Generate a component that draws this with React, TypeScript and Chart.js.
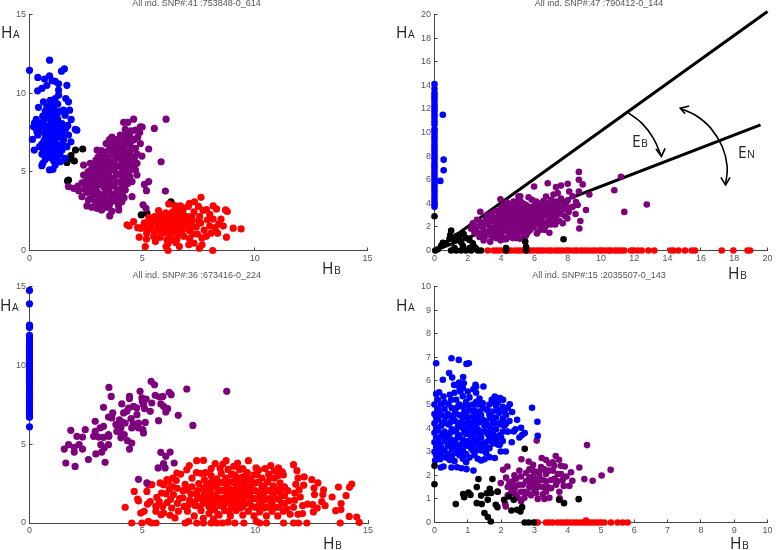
import React, { useEffect, useRef } from "react";
import { Chart, registerables } from "chart.js";
Chart.register(...registerables);

const BLUE = "#0000ff", RED = "#ff0000", PURPLE = "#7d007d", BLACK = "#000000";

// Panel 1
const blue1 = [[0,11.45],[.89,12.1],[.37,11],[1.42,11.4],[1.55,11.55],[.89,11.1],[.67,10.9],[1,10.8],[1.14,10.75],[1.29,10.6],[1.66,10.5],[.77,10.5],[.55,10.3],[.36,10.15],[1.29,10.2],[1.29,9.87],[.62,9.45],[.92,9.55],[1.14,9.66],[1.61,9.66],[1.73,9.45],[.4,9.1],[.77,9.13],[1,9.24],[1.51,8.92],[1.78,8.92],[.59,8.54],[.92,8.7],[1.21,8.6],[1.58,8.6],[1.85,8.33],[.3,8.33],[.22,8.1],[.18,7.86],[.62,8.18],[1.07,8.29],[1.44,8.07],[.77,7.9],[1.14,7.97],[1.61,7.76],[2.03,7.7],[2.1,7.65],[.33,7.55],[.62,7.55],[.92,7.48],[1.29,7.55],[1.73,7.34],[.37,7.34],[.13,7.06],[.77,7.12],[1.14,7.12],[1.51,7.02],[1.84,6.91],[.55,6.76],[.92,6.7],[1.29,6.7],[1.66,6.6],[.21,6.38],[.62,6.38],[1.07,6.34],[1.44,6.38],[.55,6.13],[.84,6.07],[1.21,5.96],[1.58,5.86],[.7,5.79],[1.07,5.7],[1.36,5.64],[.59,5.54],[.55,5.39],[1.14,5.43],[.89,5.12],[1.04,5.16],[.28,7.8],[.45,7.85],[.5,8.1],[.95,8.05],[1.3,8.1],[1.4,7.75],[.85,7.7],[1.1,7.6],[.7,7.35],[1,7.3],[1.3,7.2],[.65,7],[.95,6.9],[1.15,6.55],[.8,6.5],[.45,6.6],[1.35,6.1],[.95,5.9],[1.7,7.95],[1.05,9.05],[1.25,9.3],[.95,9.3],[.7,8.85],[1.35,8.85],[1.1,8.9],[.85,8.4],[1.1,8.5],[1.25,8.35],[.9,8.95],[.75,8.6],[.6,7.8],[1,7.85],[1.2,7.85],[.8,7.5],[1.5,7.4],[1.2,7.35],[.9,7.15],[1.05,7.05],[.75,6.85],[1.15,6.85],[1.45,6.75],[.95,6.5],[.7,6.6],[1.25,6.35],[.85,6.3],[1.05,6.1]];
const purple1 = [[4.62,8.35],[6.06,8.35],[4.18,8.14],[4.36,8.14],[5.54,7.76],[4.25,7.7],[4.92,7.86],[4.7,7.65],[4.89,7.5],[5.29,6.45],[5.84,5.64],[4.99,6],[4.77,5.54],[5.29,4.38],[5.1,4.2],[5.19,3.8],[6.03,3.78],[5.04,2.9],[5.17,2.68],[3.56,2.2],[3.96,2.58],[3,2.68],[3.2,2.58],[2.55,2.83],[2.77,2.75],[1.73,4.06],[1.96,3.95],[2.18,3.8],[2.33,3.42],[2.62,3.2],[2.92,3.1],[2.4,5.43],[2.7,5.54],[2.4,4.8],[2.33,4.3],[3,6.38],[3.4,6.8],[3.66,7.2],[4.03,7.34],[4.92,6.8],[4.77,6.13],[4.7,5.12],[4.77,4.8],[4.55,4.38],[4.25,3.85],[4.55,3.42],[4.1,3.1],[3.95,2.85],[2.6,5],[2.6,4.55],[2.55,4.15],[2.55,3.7],[2.8,3.5],[2.8,3.95],[2.8,4.4],[2.85,4.85],[2.85,5.3],[2.95,5.75],[3,5.2],[3.05,4.7],[3.05,4.2],[3,3.75],[3.1,3.3],[3.15,2.95],[3.35,3.05],[3.3,3.55],[3.3,4],[3.3,4.45],[3.25,4.95],[3.25,5.45],[3.2,5.95],[3.2,6.35],[3.5,6.35],[3.45,5.9],[3.5,5.4],[3.5,4.9],[3.55,4.35],[3.5,3.85],[3.55,3.35],[3.55,2.9],[3.8,3.15],[3.8,3.6],[3.75,4.1],[3.75,4.6],[3.75,5.1],[3.75,5.6],[3.7,6.1],[3.7,6.6],[3.95,6.9],[3.95,6.4],[3.95,5.9],[4,5.4],[4,4.85],[4,4.35],[4,3.85],[4.05,3.45],[4.25,4.45],[4.25,4.95],[4.25,5.5],[4.2,6],[4.2,6.5],[4.25,7],[4.45,7.25],[4.45,6.75],[4.45,6.2],[4.45,5.7],[4.45,5.1],[4.45,4.7],[4.65,7.05],[4.7,6.5],[4.65,5.85],[4.65,5.4],[4.25,7.35],[3.2,6.1],[3.75,6.95],[4.8,7.2],[4.5,7.6],[4.2,3.35],[2.15,4.1],[2.45,3.9],[3.65,2.5],[3.4,2.75],[5,7.85]];
const purple1Core = [[2.7,3.3],[2.7,3.75],[2.7,4.2],[2.7,4.65],[2.7,5.1],[2.95,3.55],[2.95,4],[2.92,4.45],[2.95,4.95],[3,5.45],[3.05,5.95],[3.15,3.55],[3.15,4.25],[3.17,4.7],[3.12,5.2],[3.15,5.7],[3.4,3.3],[3.42,3.8],[3.4,4.2],[3.38,4.7],[3.4,5.2],[3.35,5.65],[3.35,6.15],[3.6,3.1],[3.63,3.6],[3.65,4.1],[3.63,4.6],[3.63,5.15],[3.6,5.65],[3.6,6.35],[3.55,6.7],[3.87,3.4],[3.9,3.85],[3.87,4.35],[3.87,4.85],[3.87,5.35],[3.85,5.85],[3.85,6.3],[3.85,6.75],[4.12,3.6],[4.12,4.1],[4.12,4.6],[4.12,5.15],[4.12,5.7],[4.1,6.2],[4.1,6.65],[4.1,7.1],[4.35,4.25],[4.35,4.75],[4.35,5.3],[4.32,5.8],[4.32,6.3],[4.35,6.85],[4.55,5.6],[4.55,6],[4.55,6.5],[4.55,7],[3.85,7.05],[3.55,7.05],[2.8,5.05],[2.5,4.4]];
const red1 = [[4.33,1.63],[4.62,1.84],[4.42,1.55],[4.87,.85],[5.14,.25],[5.19,.72],[5.51,.89],[5.59,.57],[6.06,.25],[6.15,0],[6.1,.68],[6.4,.65],[6.65,.25],[7.07,.36],[7.3,.47],[7.66,.36],[7.54,.15],[8.13,0],[8.74,.85],[9.04,1.42],[9.39,1.37],[8.7,2.58],[8.78,2.48],[8.15,2.83],[8.3,2.64],[7.61,3.38],[7.32,3.1],[7.05,2.8],[6.7,2.83],[6.18,2.96],[5.73,2.54],[4.95,1.4],[5.1,1.75],[5.2,1.1],[5.3,2.1],[5.4,1.55],[5.5,1.25],[5.6,1.9],[5.7,1.5],[5.85,2.1],[5.9,1.15],[6,1.7],[6.05,2.4],[6.2,1.35],[6.25,.95],[6.3,2],[6.4,1.6],[6.5,2.5],[6.55,1.1],[6.65,1.9],[6.75,1.45],[6.7,2.3],[6.85,.9],[6.95,1.7],[7,2.15],[7.1,1.25],[7.2,1.85],[7.3,2.45],[7.4,1.5],[7.45,1.05],[7.55,2.15],[7.6,1.75],[7.7,2.55],[7.75,1.3],[7.85,.9],[7.9,1.95],[8,1.55],[8.05,1.1],[8.15,2],[8.25,1.45],[8.4,1.7],[8.5,2],[8.6,1.55],[8.35,1.1],[5.55,2.15],[5.3,1.9],[6.55,.75],[7.85,2.6],[7.1,.75],[7.65,.8],[6.85,2.7],[6.1,1.1],[5.8,.85],[5.05,1.55],[4.8,1.45],[5.25,1.4],[6.6,2.7],[6.35,2.45],[7.25,1.05],[8,2.3],[7.5,2.8],[7.1,3],[6.5,.5],[6.15,.45],[6.3,1.7],[6.6,1.5],[6.9,2.1],[7.2,1.5],[7.5,1.9],[6.05,2.1],[5.9,1.9],[5.7,1.75],[5.45,1.85],[5.65,1.25],[5.8,2.3],[6,1.4],[6.1,1.9],[6.25,2.25],[6.4,1.25],[6.55,1.75],[6.55,2.1],[6.75,1.15],[6.85,1.85],[6.8,2.45],[7,1.4],[7.05,1.9],[7.2,2.15],[6.45,2.85],[6.15,1.55],[5.95,1.55]];
const black1 = [[2.36,6.45],[2.04,6.38],[1.84,6.03],[1.81,5.85],[1.99,5.69],[1.66,5.6],[1.73,4.48],[1.69,4.42],[4.96,2.26],[5.21,2.37],[6.28,3.09]];

// Panel 2
const blue2Y = [3.7,3.9,4.15,4.4,4.7,5,5.25,5.55,5.8,6.1,6.35,6.6,6.9,7.15,7.4,7.7,7.95,8.2,8.5,8.75,9,9.3,9.55,9.8,10.1,10.3,10.7,10.95,11.25,11.5,11.8,12.05,12.3,12.6,12.85,13.1,13.35,13.7,14.1];
const blue2Out = [[.5,11.5],[.55,7.7],[.55,6.8],[.35,5.9]];
const purple2 = [[8.67,6.66],[8.67,6],[8.9,5.6],[6.8,5.7],[5.98,5.43],[7.3,5.37],[7.6,5.5],[8,5.66],[3.96,4.34],[4.35,4.06],[2.75,3.29],[5.04,4.57],[4.75,4.14],[5.65,4.51],[6.1,4.14],[6.7,4.57],[7.4,4.86],[8.09,5],[8.67,5],[9.1,3.43],[8.76,2.5],[8.7,1.86],[7.98,2.71],[8.47,3.09],[8.1,3.57],[6.9,1.5],[6.86,2.43],[6.31,1.71],[5.9,2.43],[5.73,1.71],[5.14,1],[4.55,1.2],[3.96,.86],[11.2,6.25],[10.8,5.1],[11.4,3.27],[12.75,3.9],[9.3,4.75],[2.3,2.3],[2.2,1.85],[2.5,2],[2.6,1.5],[2.8,2.4],[2.9,1.9],[2.9,1.4],[3,1],[3.1,2.7],[3.2,2.2],[3.2,1.6],[3.35,.75],[3.4,1.25],[3.45,2.95],[3.5,2.45],[3.5,1.9],[3.7,3.35],[3.7,2.75],[3.75,2.15],[3.7,1.55],[3.7,1.05],[4,3.6],[4,3],[4,2.45],[4,1.9],[4,1.35],[4.3,3.5],[4.3,2.95],[4.3,2.35],[4.3,1.75],[4.3,.95],[4.6,3.85],[4.6,3.25],[4.6,2.7],[4.6,2.1],[4.6,1.55],[4.9,3.65],[4.9,3.1],[4.9,2.5],[4.9,1.9],[4.9,1.35],[5.2,4.1],[5.2,3.45],[5.2,2.85],[5.2,2.25],[5.2,1.6],[5.5,3.85],[5.5,3.2],[5.5,2.6],[5.5,2],[5.5,1.3],[5.85,4.3],[5.8,3.55],[5.8,3],[5.8,2.1],[6.1,3.5],[6.1,2.85],[6.1,2.2],[6.4,4],[6.4,3.3],[6.4,2.7],[6.4,2.15],[6.7,3.8],[6.7,3.1],[6.7,2.1],[7,4.3],[7,3.6],[7,3],[7,2.6],[7.3,4.15],[7.3,3.5],[7.3,2.8],[7.25,2.2],[7.6,4.4],[7.65,3.85],[7.6,3.1],[7.5,2.5],[8,4.25],[8.3,4.6],[8.5,4.1],[8.3,3.7],[8.6,3.85],[8.05,3.25],[7.7,2.3],[6.15,1.45],[5.15,4.6],[7.15,4.75],[4.7,1.05],[5.4,1.05]];
const purple2Core = [[2.65,2.05],[2.95,2.2],[3.05,1.3],[3.2,2.55],[3.35,1.95],[3.35,1.35],[3.6,2.7],[3.55,1.2],[3.55,1.6],[3.85,3.15],[3.85,2.7],[3.85,2.3],[3.85,1.75],[3.85,1.2],[4.15,3.3],[4.15,2.75],[4.15,2.2],[4.15,1.65],[4.15,1.1],[4.45,3.7],[4.45,3.2],[4.45,2.6],[4.45,2.05],[4.45,1.5],[4.75,3.6],[4.75,3],[4.75,2.4],[4.75,1.7],[5.05,3.9],[5.05,3.3],[5.05,2.7],[5.05,2.1],[5.05,1.5],[5.35,3.6],[5.35,3],[5.35,2.4],[5.35,1.8],[5.65,3.7],[5.65,3.35],[5.65,2.75],[5.65,2.25],[5.95,3.75],[5.95,3.2],[5.95,2.7],[6.25,3.6],[6.25,3],[6.25,2.5],[6.55,3.55],[6.55,2.95],[6.55,2.4],[6.85,3.35],[6.85,2.8]];
const purple2Edge = [[6.2,3.9],[6.55,4.2],[6.85,4],[7.15,3.85],[7.15,3.25],[7.15,2.6],[7.45,3.25],[7.45,3.7],[7.8,3.5],[7.85,2.9],[7.9,4],[6,2.4],[6.55,1.95],[6.3,2.4],[5.95,1.95],[5.6,1.55],[5.35,1.45],[4.9,1.05],[4.5,1.2],[4.15,.95],[6.6,1.75],[7,2.2],[5.35,3.95],[5.05,4.25],[4.45,3.95],[4.15,3.8],[3.45,3.2],[3.15,3],[2.55,2.6],[2.4,1.5],[2.7,1.15],[2.95,.85]];
const red2X = [3.2,3.55,3.75,3.95,4.2,4.4,4.6,4.85,5.05,5.25,5.5,5.7,5.9,6.15,6.35,6.55,6.8,7,7.25,7.45,7.65,7.9,8.1,8.35,8.55,8.8,9,9.2,9.45,9.65,9.9,10.05,10.25,10.45,10.6,10.85,11,11.2,11.4,11.8,11.95,12.2,12.45,12.85,13.2,14.2,14.35,14.65,15.05,15.45,15.65,17.25,17.95,18.8,18.95];
const black2 = [[0,2.9],[7.75,.95],[5.45,.75],[5.5,.3],[4.3,.2],[1,1.7],[.95,1.3],[.5,.65],[.4,.4],[.7,.6],[.9,1],[1.2,.9],[1.5,1.3],[1.75,1.4],[1.9,1.05],[2.1,.9],[2.3,.6],[1.6,.7],[1.2,.2],[1,0],[1.3,0],[1.6,0],[1.9,0],[2.1,.2],[2.4,.3],[2.6,0],[2.8,0],[2.2,0],[.2,.1],[.05,0],[1.5,1],[1.7,.4],[2.5,.15],[5.5,0],[4.3,0],[1.35,1.25]];
const lineBX = [0, 20], lineBY = [0, 20.25];
const lineNX = [0, 19.58], lineNY = [0, 10.65];
const arcB = [[11.63,11.69],[12.45,10.79],[13.14,9.52],[13.63,7.97]];
const headB = [[13.3,8.6],[13.63,7.97],[13.85,8.65]];
const arcN = [[14.76,12.06],[15.7,11.44],[16.59,10.37],[17.28,8.81],[17.58,7.12],[17.48,5.56]];
const headN1 = [[15.3,12.25],[14.76,12.06],[15.05,11.6]];
const headN2 = [[17.2,6.2],[17.48,5.56],[17.75,6.2]];

// Panel 3
const blue3Y = [6.1,6.7,6.9,7.1,7.3,7.5,7.7,7.9,8.1,8.3,8.5,8.7,8.9,9.1,9.3,9.5,9.7,9.9,10.1,10.3,10.5,10.7,10.9,11.1,11.3,11.5,11.7,11.9,12.4,12.55,13.9,14.75];
const purple3 = [[1.54,4.69],[1.73,4.97],[1.61,3.8],[2.02,3.59],[1.83,5.88],[1.98,4.8],[1.98,4.5],[2.2,4.97],[2.35,4.69],[2.1,5.5],[2.35,5.45],[2.47,5.92],[2.61,4.02],[2.94,4.38],[3.2,4.5],[3.31,4.76],[3.5,4.97],[3.16,4.97],[3.35,3.85],[2.84,5.5],[2.91,5.81],[3.06,5.45],[2.91,6.45],[3.28,5.43],[3.5,5.6],[3.52,5.5],[3.28,6.13],[3.13,6.03],[3.28,7.34],[3.5,6.72],[3.69,6.98],[3.65,6.66],[3.52,8.6],[3.62,8.03],[3.83,6.24],[3.87,5.81],[4.05,6.03],[4.09,7.55],[3.99,6.55],[4.17,6.98],[4.24,6.34],[4.31,7.08],[4.43,8.03],[4.43,7.89],[4.39,7.29],[4.5,6.62],[4.53,6.03],[4.34,5.22],[4.53,5.07],[4.43,4.69],[4.83,6.03],[4.9,8.35],[4.61,7.4],[4.76,6.87],[4.83,6.34],[4.98,7.93],[5.05,7.5],[5.17,7.86],[5.02,5.92],[5.05,5.71],[5.13,6.38],[5.42,7.61],[5.35,7.08],[5.39,8.98],[5.54,8.77],[5.57,8.1],[5.76,7.99],[5.91,8.03],[5.72,6.49],[5.82,7.55],[5.94,7.4],[6.12,7.25],[6.04,7.04],[6.19,8.29],[6.28,8.14],[6.59,6.83],[6.97,8.5],[7.24,6.19],[8.74,8.35],[5.82,4.48],[6.04,4.23],[6.23,4.5],[6.41,3.8],[5.7,3.49],[5.94,3.76],[6.01,3.49],[4.83,2.77],[5.2,2.54],[4,5.75],[4.1,6.4],[4.6,6.3],[4.75,7.3],[5,7.7],[5.1,7.25],[4.2,5.6],[4.05,5.4]];
const red3 = [[4.24,1],[4.53,0],[4.98,0],[5.27,.1],[5.4,0],[5.61,0],[4.64,2],[4.79,1.52],[4.83,1.4],[4.93,.63],[5.08,.74],[5.23,1.2],[5.35,1.35],[5.64,1.63],[5.2,2],[5.27,2.43],[5.42,2.43],[5.79,2.54],[5.94,2.43],[6.09,2.75],[5.83,.53],[5.94,.63],[6.23,.49],[6.45,.32],[6.38,1.8],[6.53,3.17],[6.9,0],[7.05,.1],[7.41,0],[7.71,0],[7.08,3.64],[7.41,3.95],[7.71,3.97],[6.97,3.38],[7.4,3.2],[8.23,3.76],[8.71,3.95],[8.57,3.74],[9.22,3.8],[9.7,3.95],[10.04,3.49],[10.07,3.07],[10.44,3.45],[10.69,3.64],[11.03,3.49],[11.7,3.7],[11.85,3.32],[12.17,2.92],[12.51,2.75],[12.78,2.54],[12.61,2.22],[13.03,2.11],[13,1.8],[12.63,1.8],[13.41,1.65],[13.69,2.28],[14.03,1.73],[14.18,2.26],[14.28,2.47],[13.81,1.23],[13.57,.78],[13.8,.85],[13.1,1.1],[12.58,.7],[12.55,1.16],[12.32,1.2],[14.17,.42],[14.5,.38],[14.61,.04],[13.77,0],[12.29,0],[11.92,0],[11.7,0],[11.26,0],[10.5,0],[10.2,0],[10.05,.1],[9.5,0],[9.1,0],[8.8,.05],[8.55,0],[8.3,0],[8.05,0],[5.6,1.05],[5.75,1.35],[5.9,1.05],[5.6,.75],[6.1,1.3],[6.25,1.5],[6.05,1.85],[6.3,.95],[6.6,.75],[6.55,1.25],[6.55,2.2],[6.5,2.7],[6.8,1.6],[6.8,2.05],[6.9,2.45],[6.85,1.05],[7,.75],[7.1,1.45],[7.15,1.85],[7.2,2.3],[7.2,2.85],[7.3,.45],[7.35,1.1],[7.45,1.55],[7.45,2.05],[7.5,2.5],[7.6,.8],[7.7,.3],[7.7,1.25],[7.75,1.85],[7.7,2.2],[7.75,2.75],[7.8,3.2],[7.95,.6],[7.95,1.05],[8,1.55],[8,2.05],[8,2.55],[8.05,3],[8.05,3.45],[8.15,.25],[8.2,.85],[8.25,1.3],[8.25,1.75],[8.25,2.3],[8.3,2.8],[8.4,.5],[8.45,1.1],[8.5,1.55],[8.5,2.05],[8.5,2.55],[8.5,3.15],[8.65,.8],[8.7,1.3],[8.75,1.8],[8.75,2.3],[8.7,2.85],[8.8,3.4],[8.9,.45],[8.95,1.05],[9,1.55],[9,2],[9,2.6],[9,3.1],[9.15,.8],[9.2,1.3],[9.25,1.75],[9.25,2.25],[9.25,2.8],[9.3,3.4],[9.45,.5],[9.45,1.05],[9.5,1.55],[9.5,2.05],[9.5,2.5],[9.55,3],[9.7,.75],[9.75,1.3],[9.75,1.8],[9.75,2.3],[9.8,2.8],[9.95,.45],[10,1],[10,1.55],[10,2.05],[10,2.55],[10.2,.7],[10.25,1.25],[10.25,1.75],[10.3,2.3],[10.3,2.85],[10.5,.45],[10.5,1],[10.5,1.5],[10.5,2.05],[10.55,2.6],[10.6,3.1],[10.75,.75],[10.75,1.25],[10.8,1.8],[10.8,2.35],[10.85,2.85],[10.85,3.3],[11,.45],[11.05,1],[11.05,1.5],[11.05,2],[11.1,2.55],[11.25,3.05],[11.25,.75],[11.3,1.25],[11.3,1.75],[11.3,2.3],[11.5,1.4],[11.55,.55],[11.7,1],[11.75,1.9],[11.8,2.45],[11.9,2.85],[11.95,2.1],[12,1.65],[12.1,.6],[12.1,1.1],[12.15,2.4],[11.9,.55],[11.75,1.45],[12.75,.95],[12.95,1.35],[6.7,3.1],[6.35,2.85],[5.85,1.9],[6.15,2.6],[6.35,2.3],[7.6,3.15],[9.05,3.6],[9.45,3.45],[8.45,3.45],[10.15,3.35],[11.2,3.25],[11.05,3.4]];
const red3Core = [[8.1,.85],[8.1,1.3],[8.12,1.8],[8.13,2.3],[8.15,2.65],[8.35,.55],[8.38,1.55],[8.38,2.05],[8.4,2.55],[8.6,1.05],[8.62,1.55],[8.62,2.05],[8.6,2.6],[8.85,.75],[8.85,1.3],[8.87,1.75],[8.87,2.15],[8.85,2.6],[8.95,3.05],[9.1,1.2],[9.12,1.65],[9.1,2.1],[9.12,2.5],[9.12,3],[9.35,.95],[9.37,1.4],[9.37,1.95],[9.37,2.4],[9.4,2.9],[9.6,1.25],[9.62,1.75],[9.62,2.2],[9.62,2.7],[9.65,3.2],[9.85,1.05],[9.87,1.55],[9.87,2.05],[9.9,2.5],[9.95,3.05],[10.12,1.05],[10.12,1.5],[10.15,1.95],[10.15,2.6],[10.38,.95],[10.38,1.45],[10.38,1.85],[10.4,2.35],[10.62,1.05],[10.62,1.55],[10.65,2.05],[10.65,2.85],[10.9,1],[10.9,1.55],[10.95,2.15],[11,3],[11.18,1.25],[11.18,1.75],[11.2,2.2],[7.55,1.05],[7.6,1.6],[7.85,1.45],[7.85,1.9],[7.85,2.4],[7.4,1.8],[7.3,1.3],[7.05,1.15],[7,2.1],[6.65,1.55],[6.2,2.15],[11.4,.9],[11.45,2.05]];

// Panel 4
const blue4 = [[.05,6.75],[.51,6.96],[.73,6.89],[.96,6.72],[1.03,6.75],[.44,6.33],[.53,6.14],[.25,6.05],[.86,6.16],[.74,5.93],[.88,5.9],[.59,5.83],[1.23,5.83],[1.47,5.76],[1.17,5.65],[.05,5.45],[.14,5.52],[.27,5.34],[.46,5.41],[.78,5.55],[1.81,5.34],[1.97,5.27],[2.06,5.2],[2.26,5.01],[2.93,4.86],[2.33,4.68],[2.48,4.35],[3.09,4.27],[2.38,3.86],[2.43,3.95],[2.6,4.01],[2.71,3.79],[2.63,3.71],[2.55,3.6],[3.1,3.67],[2.32,3.4],[2.14,3.01],[1.99,3.01],[1.96,3.29],[1.81,2.73],[1.65,2.77],[1.5,2.68],[1.4,2.63],[1.17,2.2],[.96,2.26],[.81,2.3],[.68,2.34],[.51,2.33],[.27,2.37],[.19,2.33],[.17,2.68],[.02,2.63],[.46,2.65],[0,5],[0,4.6],[0,4.2],[0,3.8],[0,3.4],[0,3],[.2,5],[.2,4.55],[.2,4.1],[.2,3.65],[.2,3.2],[.2,2.9],[.42,5],[.4,4.6],[.42,4.15],[.42,3.7],[.4,3.25],[.4,2.9],[.65,5.2],[.62,4.75],[.62,4.3],[.65,3.85],[.62,3.4],[.62,2.95],[.6,2.6],[.85,5.35],[.85,4.9],[.85,4.45],[.85,4],[.85,3.5],[.85,3.05],[.85,2.7],[1.05,5.3],[1.05,4.75],[1.05,4.25],[1.05,3.75],[1.05,3.25],[1.05,2.75],[1.25,5.5],[1.25,5.1],[1.25,4.55],[1.25,4.05],[1.25,3.55],[1.25,3.05],[1.45,4.85],[1.45,4.35],[1.45,3.85],[1.45,3.35],[1.45,5.05],[1.65,5],[1.65,4.55],[1.65,4.1],[1.65,3.6],[1.65,3.15],[1.85,4.95],[1.85,4.45],[1.85,3.95],[1.85,3.5],[2.05,4.9],[2.05,4.4],[2.05,3.85],[2.05,3.45],[2.15,4.55],[2.2,3.85],[1.2,2.85],[.95,2.55],[1.3,2.7],[1.72,5.2],[1,5.55],[1.25,5.75],[.75,5.7]];
const blue4Core = [[.1,4.8],[.1,4.35],[.1,3.9],[.1,3.45],[.1,3.05],[.3,4.8],[.3,4.3],[.3,3.85],[.3,3.45],[.3,3.05],[.52,4.85],[.52,4.4],[.52,3.95],[.52,3.5],[.52,3.1],[.52,2.8],[.75,5],[.75,4.55],[.75,4.15],[.75,3.7],[.75,3.25],[.75,2.85],[.95,5.1],[.95,4.65],[.95,4.2],[.95,3.75],[.95,3.25],[.95,2.9],[1.15,5],[1.15,4.5],[1.15,4],[1.15,3.5],[1.15,3.05],[1.35,5.25],[1.35,4.7],[1.35,4.25],[1.35,3.75],[1.35,3.2],[1.55,4.8],[1.55,4.3],[1.55,3.85],[1.55,3.4],[1.55,2.95],[1.75,4.7],[1.75,4.3],[1.75,3.8],[1.75,3.35],[1.95,4.65],[1.95,4.2],[1.95,3.7],[.5,5.2],[.3,5.1],[.1,5.2],[1.9,5.1],[2.15,4.2],[.6,5.5],[.85,5.7]];
const blue4Fill = [[.05,4.45],[.05,4],[.05,3.6],[.05,3.2],[.05,2.85],[.15,4.7],[.15,3.3],[.25,4.2],[.25,3.75],[.35,3.55],[.35,4.5],[.35,2.75],[.48,4.25],[.48,3.8],[.48,3.35],[.58,4.55],[.58,3.25],[.7,4.05],[.7,3.6],[.7,3.05],[.7,4.9],[.8,4.25],[.8,3.3],[.8,2.95],[.9,4.7],[.9,3.85],[1,4.95],[1,4.45],[1,3.95],[1,3.45],[1.1,4.15],[1.1,3.65],[1.1,3.15],[1.2,4.75],[1.2,4.3],[1.2,3.8],[1.2,3.3],[1.3,5],[1.3,4.4],[1.3,3.95],[1.3,3.45],[1.4,4.55],[1.4,3.6],[1.4,3.05],[1.5,4.1],[1.5,3.2],[1.6,4.75],[1.6,3.75],[1.7,4.45],[1.7,3.95],[1.7,3.45],[1.8,5.1],[1.8,4.2],[1.8,3.65],[1.9,4.75],[1.9,3.3],[2,4.15],[2,3.6],[2.1,4.7],[2.1,4.1],[2.2,4.85],[2.25,4.3]];
const purple4 = [[3.07,3.47],[4.58,3.28],[5.29,2.23],[5.02,1.99],[4.75,1.77],[4.5,1.84],[4.35,2.33],[4.1,2.13],[4.14,1.77],[3.96,1.95],[3.88,1.55],[3.76,1.03],[3.64,2.82],[3.74,2.66],[3.91,2.37],[3.22,2.73],[2.61,2.68],[2.83,2.58],[2.96,2.44],[2.19,2.37],[2.06,2.23],[2.14,.68],[2.12,.8],[1.89,1.31],[1.99,1.67],[2.15,1.9],[2.2,1.5],[2.2,1.15],[2.35,1.75],[2.4,1.35],[2.4,2],[2.5,1.05],[2.55,1.6],[2.55,2.2],[2.6,.9],[2.7,1.3],[2.75,1.75],[2.75,2.1],[2.85,1.5],[2.9,1.15],[3,1.8],[3.1,1],[3.05,2.15],[3.1,1.5],[3.2,2.35],[3.25,1.2],[3.25,1.8],[3.35,2.05],[3.4,1.5],[3.45,1.05],[3.45,2.5],[3.5,1.8],[3.55,2.2],[3.65,1.6],[3.7,2.05],[3.8,2.4],[3.75,1.3],[3.85,1.8],[4.05,1.55],[3.35,2.65],[2.95,2.2],[2.45,1.15],[3,1.35],[2.85,1.9]];
const purple4Core = [[2.3,1.5],[2.3,1.25],[2.45,1.55],[2.45,1.85],[2.6,1.3],[2.65,1.6],[2.6,1.95],[2.8,1.25],[2.85,1.7],[2.85,2.25],[2.95,1.55],[2.95,1.95],[3.05,1.25],[3.1,1.7],[3.15,1.95],[3.15,2.15],[3.25,1.5],[3.3,2.25],[3.35,1.3],[3.35,1.75],[3.45,2.2],[3.5,1.45],[3.6,1.85],[3.6,2.4],[3.7,1.75],[3.3,1],[2.7,1.05],[2.25,1.7],[3.8,2.05],[3.55,2.55]];
const red4X = [3.05,3.1,3.35,3.45,3.55,3.7,3.8,3.9,4,4.1,4.2,4.3,4.4,4.5,4.6,4.7,4.8,4.9,5,5.1,5.3,5.5,5.65,5.8];
const red4High = [[4.55,.08]];
const black4 = [[0,2.4],[0,1.62],[2.71,3.12],[4.33,.99],[3.89,.82],[3.74,.96],[.64,.78],[.86,1.21],[.89,1.07],[1.02,1.27],[1.08,1.17],[1.27,1.5],[1.32,1.84],[1.74,1.84],[1.4,1.14],[1.27,.82],[1.42,.78],[1.6,.96],[1.57,1.24],[1.66,1.43],[1.7,1.25],[1.84,.75],[1.89,.65],[1.5,.4],[1.6,.23],[1.69,.04],[2.09,.96],[2.24,1.1],[2.38,.96],[2.31,.51],[2.48,.54],[2.58,.47],[2.63,.65],[2.71,0],[2.83,0],[2.98,0],[1.9,1.3]];

const xy = (p: number[][]) => p.map(([x, y]) => ({ x, y }));
const onX = (a: number[]) => a.map((x) => ({ x, y: 0 }));
const onY = (a: number[]) => a.map((y) => ({ x: 0, y }));
const zip = (a: number[], b: number[]) => a.map((x, i) => ({ x, y: b[i] }));

const dots = (data: any[], color: string, r = 3.6) => ({ type: "scatter", data, backgroundColor: color, borderWidth: 0, pointRadius: r, pointHoverRadius: r, clip: false, showLine: false });
const stroke = (data: any[], w: number, tension = 0) => ({ type: "line", data, borderColor: "#000", borderWidth: w, pointRadius: 0, tension, fill: false, clip: false, showLine: true });

const panels = [
  { title: "All ind. SNP#:41 :753848-0_614", left: 0, top: -2, w: 389, h: 285, area: [29.5, 14.5, 367.5, 250.5], xMax: 15, xStep: 5, yMax: 15, yStep: 5,
    sets: [dots(xy(blue1), BLUE), dots(xy(purple1), PURPLE), dots(xy(purple1Core), PURPLE), dots(xy(red1), RED), dots(xy(black1), BLACK)],
    notes: [["H", "A", 1, 38], ["H", "B", 322, 274]] },
  { title: "All ind. SNP#:47 :790412-0_144", left: 389, top: -2, w: 389, h: 285, area: [434.5, 14.5, 772.5, 250.5], xMax: 20, xStep: 2, yMax: 20, yStep: 2,
    sets: [dots(xy(black2), BLACK, 3.3), dots(onY(blue2Y), BLUE, 3.3), dots(xy(blue2Out), BLUE, 3.3), dots(xy(purple2), PURPLE, 3.3), dots(xy(purple2Core), PURPLE, 3.3), dots(xy(purple2Edge), PURPLE, 3.3), dots(onX(red2X), RED, 3.3),
      stroke(zip(lineBX, lineBY), 3), stroke(zip(lineNX, lineNY), 3), stroke(xy(arcB), 1.6, 0.4), stroke(xy(headB), 1.6), stroke(xy(arcN), 1.6, 0.4), stroke(xy(headN1), 1.6), stroke(xy(headN2), 1.6)],
    notes: [["H", "A", 396, 38], ["H", "B", 728, 279], ["E", "B", 632, 147], ["E", "N", 738, 158]] },
  { title: "All ind. SNP#:36 :673416-0_224", left: 0, top: 270, w: 389, h: 280, area: [29.5, 286.5, 368, 523], xMax: 15, xStep: 5, yMax: 15, yStep: 5,
    sets: [dots(onY(blue3Y), BLUE), dots(xy(purple3), PURPLE), dots(xy(red3), RED), dots(xy(red3Core), RED)],
    notes: [["H", "A", 0, 311], ["H", "B", 323, 549]] },
  { title: "All ind. SNP#:15 :2035507-0_143", left: 389, top: 270, w: 389, h: 280, area: [434.5, 286.5, 772.5, 522.5], xMax: 10, xStep: 1, yMax: 10, yStep: 1,
    sets: [dots(xy(black4), BLACK, 3.3), dots(xy(blue4), BLUE, 3.3), dots(xy(blue4Core), BLUE, 3.3), dots(xy(blue4Fill), BLUE, 3.3), dots(xy(purple4), PURPLE, 3.3), dots(xy(purple4Core), PURPLE, 3.3), dots(onX(red4X), RED, 3.3), dots(xy(red4High), RED, 3.3)],
    notes: [["H", "A", 396, 311], ["H", "B", 730, 549]] },
];

const notesPlugin = {
  id: "notes",
  afterLayout(chart: any) {
    if (chart.titleBlock) { chart.titleBlock.left -= 2; chart.titleBlock.right -= 2; }
  },
  afterDraw(chart: any, _a: any, opts: any) {
    const ctx = chart.ctx;
    ctx.save();
    ctx.fillStyle = "#222";
    ctx.textBaseline = "alphabetic";
    ctx.textAlign = "left";
    for (const [big, small, x, y] of opts.items) {
      const px = x - opts.left, py = y - opts.top;
      ctx.font = "15.5px 'Open Sans'";
      ctx.fillText(big, px, py);
      const w = ctx.measureText(big).width;
      ctx.font = "10.5px 'Open Sans'";
      ctx.fillText(small, px + w + 0.5, py);
    }
    ctx.restore();
  },
};

function Panel({ cfg }: { cfg: any }) {
  const ref = useRef<HTMLCanvasElement>(null);
  useEffect(() => {
    const [l, t, r, b] = cfg.area;
    const relL = l - cfg.left, relT = t - cfg.top, relB = b - cfg.top;
    const tick = { color: "#555", font: { family: "'Liberation Sans'", size: 9 }, maxRotation: 0, autoSkip: false };
    const grid = { display: true, drawOnChartArea: false, drawTicks: true, tickLength: -3, color: "#444", lineWidth: 1 };
    const border = { display: true, color: "#444", width: 1 };
    const chart = new Chart(ref.current as any, {
      type: "scatter",
      data: { datasets: cfg.sets },
      plugins: [notesPlugin],
      options: {
        animation: false,
        responsive: false,
        events: [],
        layout: { padding: { left: 0, top: relT - 16.5 > 0 ? relT - 16.5 : 0, right: cfg.w - (r - cfg.left), bottom: cfg.h - relB - 20 } },
        scales: {
          x: { type: "linear", min: 0, max: cfg.xMax, grid, border, ticks: { ...tick, stepSize: cfg.xStep, padding: 5.5 },
            afterFit: (s: any) => { s.height = 20; } },
          y: { type: "linear", min: 0, max: cfg.yMax, grid, border, ticks: { ...tick, stepSize: cfg.yStep, padding: 6.5 },
            afterFit: (s: any) => { s.width = relL; } },
        },
        plugins: {
          legend: { display: false },
          tooltip: { enabled: false },
          title: { display: true, text: cfg.title, color: "#555", fullSize: false, font: { family: "'Liberation Sans'", size: 9, weight: "normal" }, padding: { top: 0, bottom: relT - 10.8 } },
          notes: { items: cfg.notes, left: cfg.left, top: cfg.top },
        },
      } as any,
    } as any);
    return () => chart.destroy();
  }, [cfg]);
  return <canvas ref={ref} width={cfg.w} height={cfg.h} style={{ position: "absolute", left: cfg.left, top: cfg.top, width: cfg.w, height: cfg.h }} />;
}

export default function App() {
  return (
    <div style={{ position: "absolute", left: 0, top: 0, width: 778, height: 550, overflow: "hidden", background: "#fff" }}>
      {panels.map((p, i) => <Panel key={i} cfg={p} />)}
    </div>
  );
}
